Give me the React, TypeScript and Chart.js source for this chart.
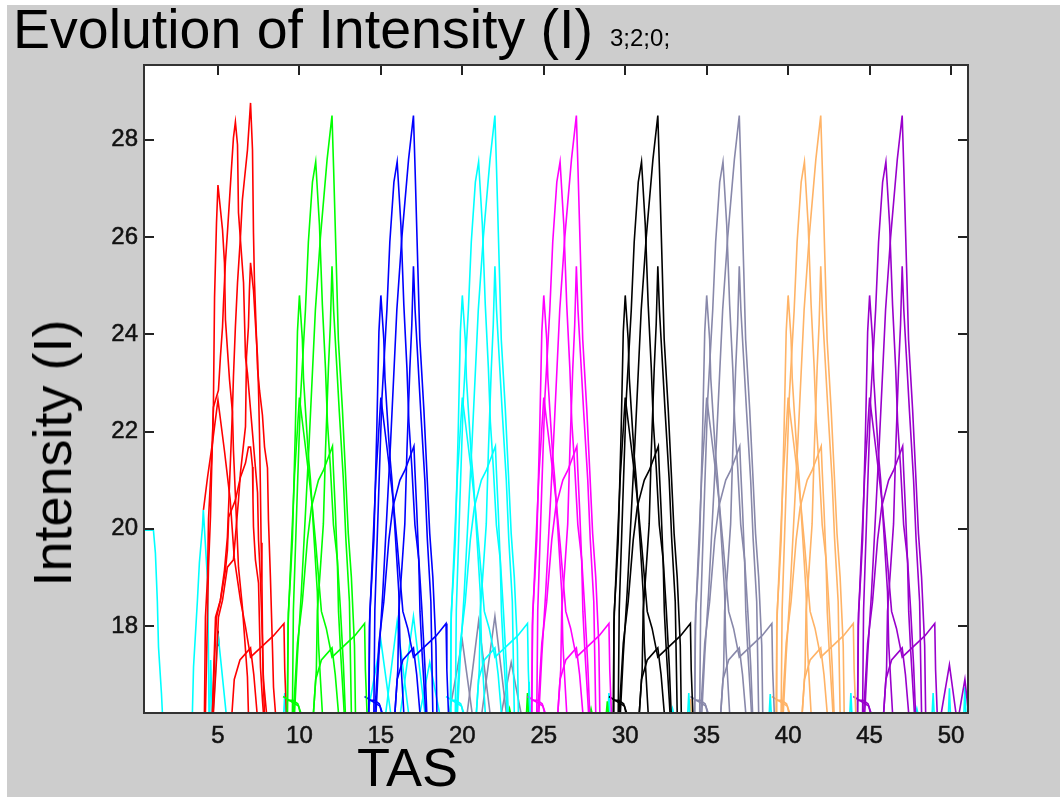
import React, { useEffect, useRef } from "react";
import { Chart, registerables } from "chart.js";

Chart.register(...registerables);

type Pt = [number, number];

const xTicks = [5, 10, 15, 20, 25, 30, 35, 40, 45, 50];
const yTicks = [18, 20, 22, 24, 26, 28];
const X_MIN = 0.46;
const X_MAX = 51.04;
const Y_MIN = 16.21;
const Y_MAX = 29.54;

// Curves of one burst, x relative to the burst start
const curveA: Pt[] = [[-0.3, 16.2], [-0.12, 17.4], [0.12, 18.7], [0.6, 21.8], [0.98, 24.5], [1.29, 26.0], [1.7, 27.6], [2, 28.5], [2.1, 27.4], [2.27, 25.37], [2.39, 23.9], [2.64, 22.45], [2.82, 21.2], [3.0, 19.9], [3.19, 19.0], [3.38, 17.6], [3.44, 16.2]];
const curveB: Pt[] = [[-0.43, 16.2], [-0.37, 18.33], [-0.12, 20.86], [0.06, 22.65], [0.37, 24.5], [0.55, 25.9], [0.8, 27.13], [1, 27.55], [1.23, 26.25], [1.41, 24.6], [1.6, 23.3], [1.72, 22.2], [1.9, 21.27], [2.09, 20.08], [2.33, 19.36], [2.52, 18.33], [2.7, 17.2], [2.82, 16.2]];
const curveC: Pt[] = [[-0.74, 16.2], [-0.68, 18.27], [-0.55, 19.0], [-0.43, 19.77], [-0.25, 22.03], [-0.12, 24.05], [0, 24.8], [0.18, 23.9], [0.25, 23.1], [0.37, 22.45], [0.55, 21.5], [0.68, 21.0], [1.1, 18.7], [1.17, 17.65], [1.29, 16.9], [1.41, 16.2]];
const curveD: Pt[] = [[0.86, 16.2], [1.04, 17.1], [1.1, 18.3], [1.29, 19.2], [1.47, 20.1], [1.6, 21.6], [1.78, 23.3], [1.9, 24.2], [2, 25.4], [2.1, 24.5], [2.25, 23.6], [2.45, 22.4], [2.7, 21.0], [2.85, 19.8], [3.07, 18.5], [3.19, 16.2]];
const curveE: Pt[] = [[-0.37, 16.2], [-0.12, 17.65], [0.18, 18.5], [0.49, 19.77], [0.74, 20.45], [1.17, 21.0], [1.47, 21.2], [2.03, 21.7], [2.09, 21.2], [2.2, 20.4], [2.33, 19.3], [2.4, 18.3], [2.52, 17.5], [2.7, 16.5], [2.75, 16.2]];
const curveF: Pt[] = [[-0.74, 16.2], [-0.7, 18.0], [-0.55, 19.2], [-0.3, 21.1], [0, 22.7], [0.4, 21.6], [0.75, 20.6], [1.0, 19.7], [1.35, 18.3], [1.65, 17.95], [2, 17.36], [3.4, 17.8], [4.0, 18.05], [4.05, 17.1], [4.15, 16.2]];
const curveG: Pt[] = [[0.86, 16.2], [1.0, 16.9], [1.35, 17.3], [2.0, 17.55], [2.2, 17.0], [2.4, 16.2]];
const curveH: Pt[] = [[-1, 16.55], [-0.05, 16.35], [0.05, 16.2]];
const curveI: Pt[] = [[-0.75, 16.47], [-0.4, 16.47], [-0.1, 16.4], [0.1, 16.2]];
const sharedCurves = [curveA, curveB, curveC, curveD, curveE, curveF, curveG, curveH, curveI];

// The first burst (red) has its own curves
const redStart = 5;
const redA: Pt[] = [[-0.34, 16.21], [-0.28, 16.68], [-0.21, 17.3], [-0.09, 18.18], [0.15, 18.53], [0.4, 19.15], [0.58, 19.83], [0.89, 22.44], [0.95, 23.12], [1.07, 24.15], [1.2, 25.06], [1.38, 26.0], [1.5, 26.77], [1.63, 27.2], [1.81, 27.79], [2, 28.76], [2.12, 27.79], [2.18, 26.09], [2.24, 25.1], [2.43, 23.3], [2.55, 22.85], [2.73, 22.34], [2.86, 21.68], [3.04, 21.25], [3.1, 20.18], [3.22, 19.0], [3.35, 17.5], [3.41, 16.74], [3.53, 16.21]];
const redB: Pt[] = [[-0.83, 16.21], [-0.77, 18.18], [-0.64, 19.0], [-0.58, 20.2], [-0.46, 21.0], [-0.34, 21.76], [-0.28, 22.5], [0.03, 22.85], [0.15, 23.53], [0.28, 24.15], [0.34, 24.65], [0.46, 25.5], [0.58, 26.09], [0.71, 26.77], [0.83, 27.42], [0.95, 28.04], [1.07, 28.37], [1.2, 27.9], [1.26, 26.5], [1.57, 25.06], [1.69, 23.53], [1.81, 23.2], [2.43, 20.74], [2.49, 19.77], [2.61, 18.94], [2.73, 17.71], [2.79, 16.89], [2.98, 16.21]];
const redC: Pt[] = [[-0.77, 16.21], [-0.64, 18.27], [-0.58, 19.21], [-0.46, 20.24], [-0.34, 21.83], [-0.28, 22.5], [-0.21, 24.75], [-0.09, 26.29], [0, 27.07], [0.28, 26.15], [0.4, 25.47], [0.46, 24.3], [0.58, 23.7], [0.71, 23.06], [0.89, 22.4], [0.95, 21.62], [1.26, 19.21], [1.5, 18.39], [1.81, 16.95], [1.87, 16.21]];
const redD: Pt[] = [[-0.28, 16.21], [-0.09, 17.3], [0.03, 18.18], [0.28, 18.53], [0.58, 19.21], [0.95, 19.36], [1.26, 20.59], [1.38, 21.15], [1.69, 22.1], [1.75, 23.53], [1.87, 24.15], [1.93, 24.9], [2, 25.47], [2.18, 24.91], [2.3, 24.23], [2.43, 23.53], [2.49, 22.85], [2.55, 21.97], [2.6, 20.94], [2.65, 19.71], [2.7, 18.88], [2.75, 17.3], [2.85, 16.21]];
const redE: Pt[] = [[-0.34, 16.21], [-0.28, 16.89], [-0.15, 18.18], [0.15, 18.53], [0.46, 19.15], [0.58, 19.56], [0.66, 20.24], [1.07, 20.59], [1.38, 21.06], [1.69, 21.35], [1.87, 21.68], [2, 21.68], [2.12, 21.27], [2.15, 20.59], [2.18, 20.04], [2.3, 19.36], [2.49, 18.88], [2.61, 17.15], [2.73, 16.48], [2.79, 16.21]];
const redF: Pt[] = [[-0.89, 20.39], [-0.64, 21.06], [-0.46, 21.48], [-0.34, 21.76], [0, 22.65], [0.4, 21.6], [0.75, 20.6], [1.0, 19.4], [1.38, 18.53], [1.69, 17.98], [2, 17.36], [3.41, 17.8], [4.05, 18.05], [4.1, 17.1], [4.2, 16.21]];
const redG: Pt[] = [[0.86, 16.21], [1.0, 16.9], [1.35, 17.3], [2.0, 17.55], [2.2, 17.0], [2.4, 16.21]];
const redCurves = [redA, redB, redC, redD, redE, redF, redG];

// Later bursts
const burstStarts = [10, 15, 20, 25, 30, 35, 40, 45];
const burstColors = ["#00FF00", "#0000FF", "#00FFFF", "#FF00FF", "#000000", "#8888AA", "#FFB366", "#9900CC"];
const redColor = "#FF0000";

// Low lobes showing under two of the bursts
const lobeStarts = [15, 20];
const lobeColors = ["#00FFFF", "#8888AA"];
const lobe0: Pt[] = [[-0.8, 16.21], [0, 17.7], [0.6, 16.21]];
const lobe1: Pt[] = [[0.3, 16.21], [1, 18.1], [1.7, 16.21]];
const lobe2: Pt[] = [[1.2, 16.21], [2, 18.2], [2.7, 16.21]];
const lobe3: Pt[] = [[2.4, 16.21], [3, 17.25], [3.6, 16.21]];
const lobes = [lobe0, lobe1, lobe2, lobe3];

// Separate pieces
const cyanOpening: Pt[] = [[0.46, 19.97], [1.04, 19.97], [1.16, 19.5], [1.28, 18.5], [1.35, 17.57], [1.53, 16.62], [1.59, 16.21]];
const cyanRise: Pt[] = [[3.43, 16.21], [3.5, 17.15], [3.74, 18.53], [3.86, 19.3], [4.05, 20.04], [4.1, 20.39], [4.35, 19.0], [4.4, 18.0], [4.45, 16.21]];
const cyanBumpA: Pt[] = [[4.5, 16.21], [4.55, 17.3], [4.65, 16.21]];
const cyanBumpB: Pt[] = [[4.7, 16.21], [5, 17.85], [5.2, 17.2], [5.5, 16.21]];
const blackTip: Pt[] = [[4.95, 17.6], [5, 17.9], [5.05, 17.6]];
const purpleTailA: Pt[] = [[49.4, 16.21], [49.9, 17.2], [50.3, 16.21]];
const purpleTailB: Pt[] = [[50.5, 16.21], [50.85, 16.9], [51.04, 16.3]];

// Short spikes along the floor: x, height, colour
const spikeX = [9.1, 22.9, 24.0, 24.1, 27.9, 28.9, 29.0, 32.9, 33.9, 34.0, 38.9, 43.85, 47.9, 48.9, 49.9, 50.85];
const spikeTop = [16.62, 16.3, 16.62, 16.85, 16.3, 16.45, 16.62, 16.3, 16.62, 16.5, 16.6, 16.62, 16.3, 16.62, 16.72, 16.74];
const spikeColor = ["#00FFFF", "#00FF00", "#00FF00", "#00FFFF", "#00FF00", "#00FF00", "#00FFFF", "#00FFFF", "#00FFFF", "#FFB366", "#00FFFF", "#00FFFF", "#00FFFF", "#00FFFF", "#00FFFF", "#00FFFF"];

const shift = (c: Pt[], dx: number) => c.map(([x, y]) => ({ x: x + dx, y }));

function buildDatasets() {
  const line = (data: { x: number; y: number }[], color: string) => ({
    data,
    borderColor: color,
    borderWidth: 1.6,
    pointRadius: 0,
    tension: 0,
    fill: false,
  });
  const out: any[] = [];
  burstStarts.forEach((s, i) => sharedCurves.forEach((c) => out.push(line(shift(c, s), burstColors[i]))));
  lobeStarts.forEach((s, i) => lobes.forEach((c) => out.push(line(shift(c, s), lobeColors[i]))));
  redCurves.forEach((c) => out.push(line(shift(c, redStart), redColor)));
  [cyanOpening, cyanRise, cyanBumpA, cyanBumpB].forEach((c) => out.push(line(shift(c, 0), "#00FFFF")));
  out.push(line(shift(blackTip, 0), "#000000"));
  [purpleTailA, purpleTailB].forEach((c) => out.push(line(shift(c, 0), "#9900CC")));
  spikeX.forEach((x, i) =>
    out.push(line([{ x: x - 0.06, y: Y_MIN }, { x, y: spikeTop[i] }, { x: x + 0.06, y: Y_MIN }], spikeColor[i]))
  );
  return out;
}

const framePlugin = {
  id: "frame",
  beforeDraw(chart: any) {
    const { ctx, chartArea: a } = chart;
    ctx.save();
    ctx.fillStyle = "#FFFFFF";
    ctx.fillRect(0, 0, chart.width, chart.height);
    ctx.fillStyle = "#CDCDCD";
    ctx.fillRect(7, 5, chart.width - 7, chart.height - 5);
    ctx.fillStyle = "#FFFFFF";
    ctx.fillRect(a.left, a.top, a.right - a.left, a.bottom - a.top);
    ctx.restore();
  },
  afterDraw(chart: any) {
    const { ctx, chartArea: a, scales } = chart;
    ctx.save();
    ctx.strokeStyle = "#222222";
    ctx.lineWidth = 2;
    scales.y.ticks.forEach((t: any) => {
      const p = Math.round(scales.y.getPixelForValue(t.value));
      ctx.beginPath();
      ctx.moveTo(a.left, p);
      ctx.lineTo(a.left + 10, p);
      ctx.moveTo(a.right, p);
      ctx.lineTo(a.right - 10, p);
      ctx.stroke();
    });
    scales.x.ticks.forEach((t: any) => {
      const p = Math.round(scales.x.getPixelForValue(t.value));
      ctx.beginPath();
      ctx.moveTo(p, a.top);
      ctx.lineTo(p, a.top + 10);
      ctx.stroke();
    });
    ctx.strokeStyle = "#333333";
    ctx.lineWidth = 2;
    ctx.strokeRect(a.left, a.top, a.right - a.left, a.bottom - a.top);
    ctx.restore();
  },
};

const textBase: React.CSSProperties = {
  position: "absolute",
  fontFamily: '"Liberation Sans", Arial, sans-serif',
  color: "#000",
  whiteSpace: "nowrap",
  lineHeight: 1,
};

const tickFont = { family: '"Liberation Sans", Arial, sans-serif', size: 24 };

export default function App() {
  const ref = useRef<HTMLCanvasElement>(null);
  useEffect(() => {
    document.body.style.margin = "0";
    document.body.style.background = "#fff";
    const chart = new Chart(ref.current!, {
      type: "line",
      data: { datasets: buildDatasets() },
      plugins: [framePlugin],
      options: {
        animation: false,
        responsive: false,
        parsing: false,
        normalized: false,
        layout: { padding: { left: 13, right: 92, top: 0, bottom: 0 } },
        plugins: {
          legend: { display: false },
          tooltip: { enabled: false },
          title: {
            display: true,
            text: "Evolution of Intensity (I)",
            align: "start",
            color: "#000",
            font: { family: '"Liberation Sans", Arial, sans-serif', size: 55.5, weight: "normal", lineHeight: 1 },
            padding: { top: 5, bottom: 4.5 },
          },
        },
        scales: {
          x: {
            type: "linear",
            min: X_MIN,
            max: X_MAX,
            afterBuildTicks: (s: any) => {
              s.ticks = xTicks.map((value) => ({ value }));
            },
            afterFit: (s: any) => {
              s.height = 84;
            },
            grid: { display: false, drawTicks: false },
            border: { display: false },
            ticks: {
              autoSkip: false,
              maxRotation: 0,
              padding: 9,
              color: "#111",
              textStrokeColor: "#111",
              textStrokeWidth: 0.5,
              font: tickFont,
            },
          },
          y: {
            type: "linear",
            min: Y_MIN,
            max: Y_MAX,
            afterBuildTicks: (s: any) => {
              s.ticks = yTicks.map((value) => ({ value }));
            },
            afterFit: (s: any) => {
              s.width = 131;
            },
            grid: { display: false, drawTicks: false },
            border: { display: false },
            ticks: {
              padding: 6,
              color: "#111",
              textStrokeColor: "#111",
              textStrokeWidth: 0.5,
              font: tickFont,
            },
          },
        },
      },
    } as any);
    return () => chart.destroy();
  }, []);

  return (
    <div style={{ position: "relative", width: 1060, height: 797, overflow: "hidden" }}>
      <canvas ref={ref} width={1060} height={797} style={{ display: "block" }} />
      <span style={{ ...textBase, left: 610, top: 26, fontSize: 24 }}>3;2;0;</span>
      <span style={{ ...textBase, left: 357, top: 740, fontSize: 54 }}>TAS</span>
      <span
        style={{
          ...textBase,
          left: 52,
          top: 453,
          fontSize: 54,
          transform: "translate(-50%, -50%) rotate(-90deg)",
        }}
      >
        Intensity (I)
      </span>
    </div>
  );
}
